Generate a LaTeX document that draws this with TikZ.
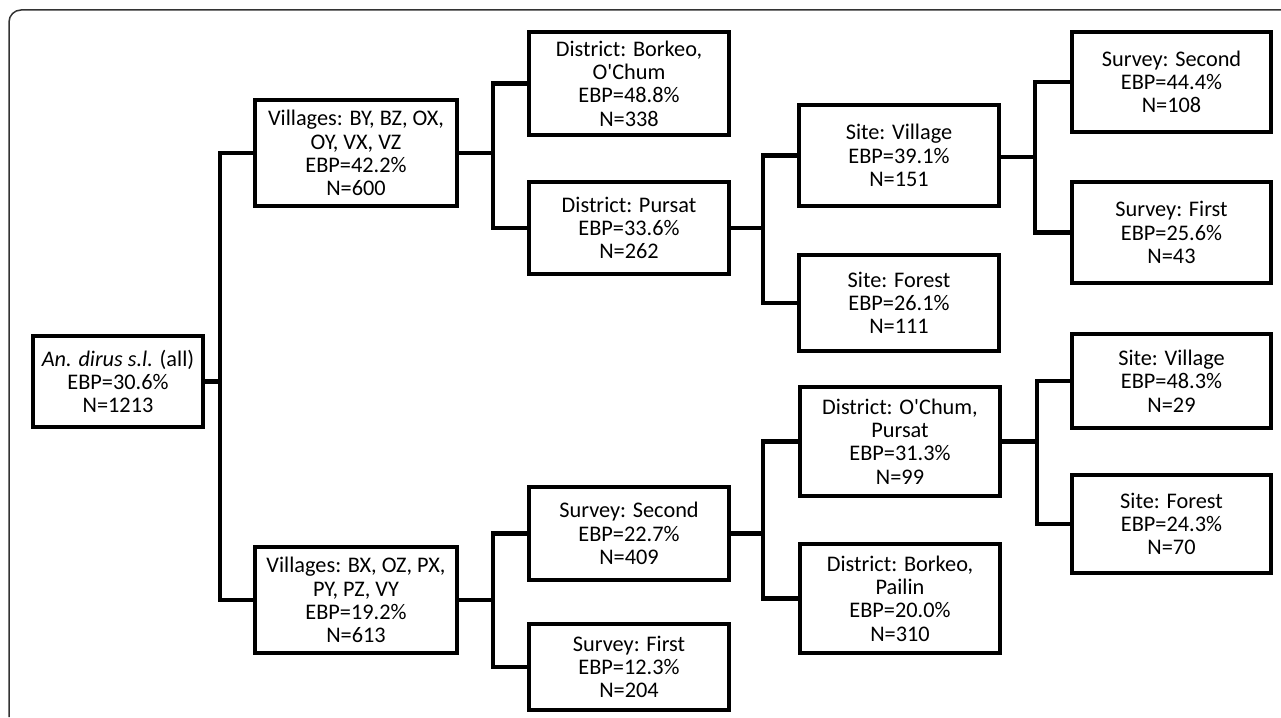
\documentclass[tikz,border=0pt]{standalone}
\usepackage{fontspec}
\setmainfont{Carlito}
\begin{document}
\begin{tikzpicture}[x=1pt,y=-1pt,
  box/.style={draw=black, line width=4.5pt, fill=white, inner sep=0pt, align=center,
    font=\fontsize{22.3}{23.3}\selectfont, text=black},
  conn/.style={draw=black, line width=4.5pt, line join=miter},
  frame/.style={draw=black!80, line width=1.5pt, rounded corners=12pt}]
\useasboundingbox (0,0) rectangle (1281,717);
\draw[frame] (9,717) -- (9,10) -- (1281,10);
% column 1
\node[box, minimum width=170pt, minimum height=91pt] (root) at (118,381.5)
  {\textit{An. dirus s.l.} (all)\\EBP=30.6\%\\N=1213};
% column 2
\node[box, minimum width=202pt, minimum height=106pt] (v1) at (356,153)
  {Villages: BY, BZ, OX,\\OY, VX, VZ\\EBP=42.2\%\\N=600};
\node[box, minimum width=202pt, minimum height=106pt] (v2) at (356,600)
  {Villages: BX, OZ, PX,\\PY, PZ, VY\\EBP=19.2\%\\N=613};
% column 3
\node[box, minimum width=200pt, minimum height=103pt] (d1) at (629,83.5)
  {District: Borkeo,\\O\textquotesingle Chum\\EBP=48.8\%\\N=338};
\node[box, minimum width=200pt, minimum height=92pt] (d2) at (629,228)
  {District: Pursat\\EBP=33.6\%\\N=262};
\node[box, minimum width=200pt, minimum height=93pt] (s1) at (629,533.5)
  {Survey: Second\\EBP=22.7\%\\N=409};
\node[box, minimum width=200pt, minimum height=86pt] (s2) at (629,667)
  {Survey: First\\EBP=12.3\%\\N=204};
% column 4
\node[box, minimum width=200pt, minimum height=101pt] (sv) at (899,155.5)
  {Site: Village\\EBP=39.1\%\\N=151};
\node[box, minimum width=200pt, minimum height=96pt] (sf) at (899,303)
  {Site: Forest\\EBP=26.1\%\\N=111};
\node[box, minimum width=200pt, minimum height=109pt] (do) at (900,441.5)
  {District: O\textquotesingle Chum,\\Pursat\\EBP=31.3\%\\N=99};
\node[box, minimum width=200pt, minimum height=109pt] (db) at (900,598.5)
  {District: Borkeo,\\Pailin\\EBP=20.0\%\\N=310};
% column 5
\node[box, minimum width=199pt, minimum height=100pt] (ss) at (1171.5,82)
  {Survey: Second\\EBP=44.4\%\\N=108};
\node[box, minimum width=199pt, minimum height=101pt] (sfi) at (1171.5,232.5)
  {Survey: First\\EBP=25.6\%\\N=43};
\node[box, minimum width=199pt, minimum height=94pt] (sv2) at (1171.5,381)
  {Site: Village\\EBP=48.3\%\\N=29};
\node[box, minimum width=199pt, minimum height=98pt] (sf2) at (1171.5,524)
  {Site: Forest\\EBP=24.3\%\\N=70};
% junctions
\coordinate (j1) at (220,381.5);
\coordinate (j2) at (493,153);
\coordinate (j3) at (493,600);
\coordinate (j4) at (763,228);
\coordinate (j5) at (763,533.5);
\coordinate (j6) at (1035,157);
\coordinate (j7) at (1037,441.5);
% connectors
\draw[conn] (root.east) -- (j1);
\draw[conn] (v1.west) -| (j1) |- (v2.west);
\draw[conn] (v1.east) -- (j2);
\draw[conn] (d1.west) -| (j2) |- (d2.west);
\draw[conn] (v2.east) -- (j3);
\draw[conn] (s1.west) -| (j3) |- (s2.west);
\draw[conn] (d2.east) -- (j4);
\draw[conn] (sv.west) -| (j4) |- (sf.west);
\draw[conn] (s1.east) -- (j5);
\draw[conn] (do.west) -| (j5) |- (db.west);
\draw[conn] (sv.east |- j6) -- (j6);
\draw[conn] (ss.west) -| (j6) |- (sfi.west);
\draw[conn] (do.east) -- (j7);
\draw[conn] (sv2.west) -| (j7) |- (sf2.west);
\end{tikzpicture}
\end{document}
